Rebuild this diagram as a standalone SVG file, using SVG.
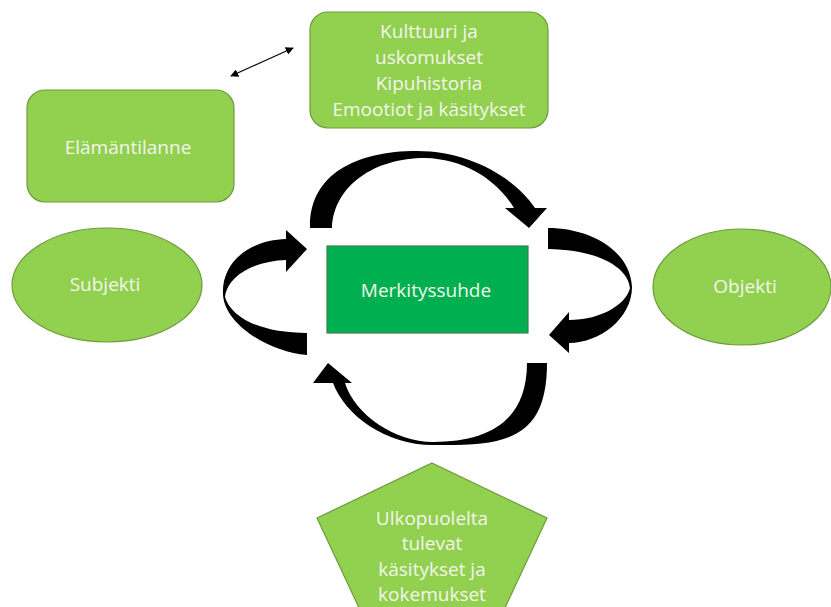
<svg xmlns="http://www.w3.org/2000/svg" width="831" height="607" viewBox="0 0 831 607">
<defs>
<style>
.node{fill:#92D050;stroke:#6E9A3C;stroke-width:1.2}
.center{fill:#00B050;stroke:#3E7F4E;stroke-width:1.2}
.lbl{font-family:"Open Sans","Noto Sans",sans-serif;font-size:19px;fill:#F2F6EC;text-anchor:middle}
.curve{fill:#000}
</style>
<marker id="ah" viewBox="0 0 10 10" refX="9" refY="5" markerWidth="8" markerHeight="8" markerUnits="userSpaceOnUse" orient="auto-start-reverse">
<path d="M0,0 L10,5 L0,10 Z" fill="#000"/>
</marker>
</defs>
<rect width="831" height="607" fill="#fff"/>

<g id="kulttuuri">
<rect class="node" x="310" y="12" width="238" height="116" rx="18"/>
<text class="lbl" x="429" y="38">Kulttuuri ja</text>
<text class="lbl" x="429" y="64">uskomukset</text>
<text class="lbl" x="429" y="90">Kipuhistoria</text>
<text class="lbl" x="429" y="116">Emootiot ja käsitykset</text>
</g>

<g id="elamantilanne">
<rect class="node" x="27" y="90" width="207" height="112" rx="18"/>
<text class="lbl" x="128" y="154">Elämäntilanne</text>
</g>

<g id="subjekti">
<ellipse class="node" cx="107" cy="285" rx="95" ry="57"/>
<text class="lbl" x="105" y="291">Subjekti</text>
</g>

<g id="objekti">
<ellipse class="node" cx="742" cy="287" rx="89" ry="58"/>
<text class="lbl" x="745" y="293">Objekti</text>
</g>

<g id="merkityssuhde">
<rect class="center" x="327" y="246" width="201" height="87"/>
<text class="lbl" x="426" y="297">Merkityssuhde</text>
</g>

<g id="ulkopuolelta">
<polygon class="node" points="432,463 547,518 503,612 361,612 317,518"/>
<text class="lbl" x="432" y="525">Ulkopuolelta</text>
<text class="lbl" x="432" y="550">tulevat</text>
<text class="lbl" x="432" y="576">käsitykset ja</text>
<text class="lbl" x="432" y="601">kokemukset</text>
</g>

<g id="connectors">
<line x1="231" y1="76" x2="293" y2="48" stroke="#000" stroke-width="1.2" marker-start="url(#ah)" marker-end="url(#ah)"/>
<path class="curve" d="M310,228 C309,175 355,151 417,151 C470,151 515,178 535,208 L547,208 L529,228 L505,208 L514,208 C497,180 465,159 425,158 C375,158 334,185 332,228 Z"/>
<path class="curve" d="M548,228 C590,228 630,250 632,287 C632,318 600,343 569,343 L569,353 L549,335 L569,312 L569,320 C600,320 626,305 630,288 C628,268 600,250 548,249 Z"/>
<path class="curve" d="M547,363 C547,440 505,446 433,445 C385,445 345,415 333,383 L313,383 L328,363 L352,383 L345,383 C355,415 395,442 433,442 C490,442 527,420 527,363 Z"/>
<path class="curve" d="M307,355 C270,352 225,325 223,295 C221,262 250,240 286,239 L286,230 L307,249 L286,272 L286,260 C255,261 228,275 225,297 C232,320 265,333 307,333 Z"/>
</g>
</svg>
